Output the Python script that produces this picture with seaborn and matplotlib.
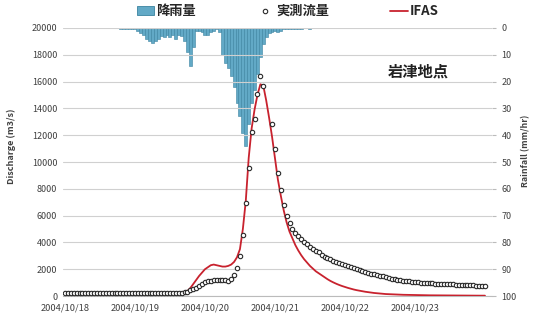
import pandas as pd
import numpy as np
import matplotlib
matplotlib.use("Agg")
import matplotlib.pyplot as plt
import matplotlib.dates as mdates
from matplotlib.lines import Line2D
from matplotlib.patches import Patch
import seaborn as sns

# --- data (hourly, starting 2004/10/18 00:00) ---
start = "2004-10-18 00:00"
observed = [
    200, 200, 200, 200, 200, 200, 200, 200, 200, 200, 200, 200,
    200, 200, 200, 200, 200, 200, 200, 200, 200, 200, 200, 200,
    200, 200, 200, 200, 200, 200, 200, 200, 200, 200, 200, 200,
    200, 210, 220, 240, 260, 290, 330, 420, 500, 580, 750, 900,
    1020, 1100, 1150, 1180, 1190, 1200, 1190, 1180, 1100, 1250, 1550, 2070,
    3000, 4550, 6960, 9530, 12260, 13200, 15060, 16440, 15650, np.nan, np.nan, 12830,
    11000, 9200, 7900, 6800, 6000, 5450, 5000, 4700, 4450, 4250, 4050, 3850,
    3650, 3500, 3350, 3250, 3100, 2950, 2850, 2750, 2650, 2550, 2450, 2380,
    2300, 2230, 2160, 2090, 2000, 1920, 1840, 1790, 1740, 1680, 1620, 1570,
    1520, 1460, 1400, 1340, 1300, 1260, 1220, 1180, 1150, 1120, 1100, 1070,
    1050, 1020, 1000, 970, 960, 950, 940, 930, 920, 910, 900, 890,
    880, 870, 860, 850, 840, 820, 810, 800, 790, 780, 770, 760,
    750,
]
ifas = [
    130, 130, 130, 130, 130, 130, 130, 130, 130, 130, 130, 130,
    130, 130, 130, 130, 130, 130, 130, 130, 130, 130, 130, 130,
    130, 130, 130, 130, 130, 130, 130, 130, 130, 130, 130, 140,
    150, 160, 180, 200, 230, 280, 380, 600, 900, 1200, 1500, 1750,
    2000, 2150, 2300, 2350, 2300, 2250, 2200, 2200, 2250, 2350, 2550, 2900,
    3500, 5000, 7100, 10300, 12500, 13900, 15000, 15800, 15700, 14600, 13300, 11900,
    10300, 8700, 7500, 6400, 5500, 4800, 4300, 3800, 3400, 3050, 2750, 2500,
    2250, 2050, 1850, 1700, 1550, 1400, 1260, 1130, 1020, 920, 830, 750,
    680, 610, 550, 490, 440, 400, 360, 320, 290, 260, 230, 210,
    190, 170, 150, 140, 130, 120, 110, 100, 95, 90, 85, 80,
    75, 70, 65, 60, 58, 56, 54, 52, 50, 48, 46, 44,
    42, 40, 38, 36, 35, 34, 33, 32, 31, 30, 30, 30,
    30,
]
# hourly rainfall (mm/hr) starting 2004/10/18 19:00
rain_start = "2004-10-18 19:00"
rainfall = [
    0.3, 0.3, 0.3, 0.5, 0.5, 0.5, 1, 2, 2.5, 4, 5, 5.5,
    5, 4, 3, 3.5, 2.5, 3.5, 2.5, 4, 2.5, 3, 5, 9,
    14, 7, 1, 1, 1.5, 2.5, 2.5, 1.5, 1, 0.5, 1.5, 10,
    13, 15, 18, 22, 28, 33, 39, 44, 36, 28, 23, 17,
    11, 6, 3.5, 2, 1.5, 1, 1.5, 1, 0.5, 0.5, 0.5, 0.3,
    0.3, 0.3, 0.3, 0, 0, 0.5,
]
day_labels = ["2004/10/18", "2004/10/19", "2004/10/20",
              "2004/10/21", "2004/10/22", "2004/10/23"]

flow = pd.DataFrame({
    "time": pd.date_range(start, periods=len(observed), freq="h"),
    "observed": observed,
    "ifas": ifas,
})
rain = pd.DataFrame({
    "time": pd.date_range(rain_start, periods=len(rainfall), freq="h"),
    "rain": rainfall,
})

sns.set_style("white")
plt.rcParams["font.family"] = ["Noto Sans CJK JP", "DejaVu Sans"]
text_col = "#404040"
bar_col = "#62a9c6"
bar_edge = "#3a83a0"
red = "#c8222e"

fig = plt.figure(figsize=(5.33, 3.18), dpi=100)
ax = fig.add_axes([0.118, 0.069, 0.805, 0.843])
ax2 = ax.twinx()

# discharge
ax.grid(axis="y", color="#d0d0d0", linewidth=0.8)
ax.set_axisbelow(True)
sns.lineplot(data=flow, x="time", y="ifas", ax=ax, color=red,
             linewidth=1.3, zorder=3)
sns.scatterplot(data=flow, x="time", y="observed", ax=ax, s=10,
                marker="o", facecolor="white", edgecolor="#2a2a2a",
                linewidth=0.8, zorder=4)

x0 = pd.Timestamp(start) - pd.Timedelta(minutes=42)
x1 = pd.Timestamp(start) + pd.Timedelta(hours=146.4)
ax.set_xlim(x0, x1)
ax.set_ylim(0, 20000)
ax.set_yticks(np.arange(0, 20001, 2000))
ax.set_xticks(pd.to_datetime(day_labels))
ax.xaxis.set_major_formatter(mdates.DateFormatter("%Y/%m/%d"))
ax.tick_params(axis="y", labelsize=6.5, colors=text_col, length=0, pad=4)
ax.tick_params(axis="x", labelsize=6.7, labelcolor=text_col, length=3,
               color="#bbbbbb", pad=2)
ax.set_xlabel("")
ax.set_ylabel("Discharge (m3/s)", fontsize=6.5, fontweight="bold", color=text_col)
ax.yaxis.set_label_coords(-0.11, 0.56)
for s in ["top", "right", "left"]:
    ax.spines[s].set_visible(False)
ax.spines["bottom"].set_color("#bbbbbb")

# rainfall (inverted, hanging from the top)
ax2.bar(rain["time"], rain["rain"], width=1 / 24, color=bar_col,
        edgecolor=bar_edge, linewidth=0.4, align="center", zorder=2)
ax2.set_ylim(100, 0)
ax2.set_yticks(np.arange(0, 101, 10))
ax2.tick_params(axis="y", labelsize=6.5, labelcolor=text_col, length=3,
                color="#bbbbbb", pad=4)
ax2.set_ylabel("Rainfall (mm/hr)", fontsize=6.3, fontweight="bold", color=text_col)
ax2.yaxis.set_label_coords(1.068, 0.54)
for s in ["top", "right", "left", "bottom"]:
    ax2.spines[s].set_visible(False)
ax.set_zorder(ax2.get_zorder() + 1)
ax.patch.set_visible(False)

ax.text(0.828, 0.836, "岩津地点", transform=ax.transAxes, fontsize=11,
        fontweight="bold", color="#222222", ha="center", va="center")

handles = [
    Patch(facecolor=bar_col, edgecolor=bar_edge, linewidth=0.6),
    Line2D([], [], marker="o", linestyle="", markersize=3.2,
           markerfacecolor="white", markeredgecolor="#2a2a2a", markeredgewidth=0.8),
    Line2D([], [], color=red, linewidth=1.3),
]
fig.legend(handles, ["降雨量", "実測流量", "IFAS"], loc="center",
           bbox_to_anchor=(0.54, 0.965), ncol=3, frameon=False,
           prop={"size": 9.5, "weight": "bold"}, columnspacing=4.6,
           handlelength=1.3, handletextpad=0.2)

fig.savefig("out.png", dpi=100)
